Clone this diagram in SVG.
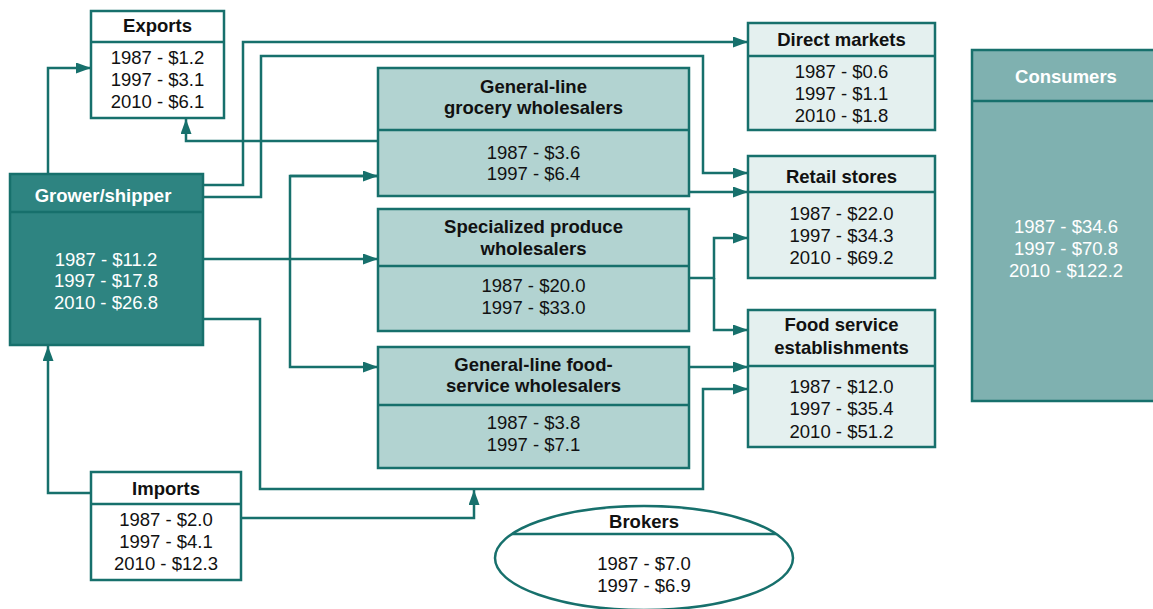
<svg xmlns="http://www.w3.org/2000/svg" width="1153" height="609" viewBox="0 0 1153 609">
<style>
.b{stroke:#17706c;stroke-width:2.5}
.w{fill:#ffffff}
.g{fill:#2e8481}
.m{fill:#b2d3d1}
.l{fill:#e4f0ef}
.c{fill:#7fb1b0}
.t{font-family:"Liberation Sans",Arial,sans-serif;font-size:18.5px;text-anchor:middle;fill:#111}
.h{font-weight:bold}
.wt{fill:#ffffff}
.cn{fill:none;stroke:#17706c;stroke-width:2.5}
</style>
<defs>
<marker id="a" viewBox="0 0 15 11" refX="15" refY="5.5" markerWidth="15" markerHeight="11" markerUnits="userSpaceOnUse" orient="auto">
<path d="M0,0 L15,5.5 L0,11 Z" fill="#17706c"/>
</marker>
</defs>
<g id="connectors">
<path class="cn" d="M48,174 V68 H91" marker-end="url(#a)"/>
<path class="cn" d="M203,185 H243 V42 H748" marker-end="url(#a)"/>
<path class="cn" d="M203,197 H261 V56 H703 V173 H748" marker-end="url(#a)"/>
<path class="cn" d="M378,141 H186 V119" marker-end="url(#a)"/>
<path class="cn" d="M203,259 H378" marker-end="url(#a)"/>
<path class="cn" d="M378,176 H290 V367 H378" marker-end="url(#a)"/>
<path class="cn" d="M290,176 H378" marker-end="url(#a)"/>
<path class="cn" d="M203,319 H260 V489 H703 V389 H748" marker-end="url(#a)"/>
<path class="cn" d="M241,518 H474 V490" marker-end="url(#a)"/>
<path class="cn" d="M91,493 H48 V346" marker-end="url(#a)"/>
<path class="cn" d="M689,192 H748" marker-end="url(#a)"/>
<path class="cn" d="M689,278 H714 V238 H748" marker-end="url(#a)"/>
<path class="cn" d="M714,278 V330 H748" marker-end="url(#a)"/>
<path class="cn" d="M689,367 H748" marker-end="url(#a)"/>
</g>
<g id="exports">
<rect class="b w" x="91" y="11" width="133" height="107"/>
<line class="b" x1="91" y1="42" x2="224" y2="42"/>
<text class="t h" x="157.5" y="32">Exports</text>
<text class="t" x="157.5" y="64">1987 - $1.2</text>
<text class="t" x="157.5" y="86">1997 - $3.1</text>
<text class="t" x="157.5" y="108">2010 - $6.1</text>
</g>
<g id="grower">
<rect class="b g" x="10" y="174" width="193" height="171"/>
<line class="b" x1="10" y1="212" x2="203" y2="212"/>
<text class="t h wt" x="103" y="202">Grower/shipper</text>
<text class="t wt" x="106" y="266">1987 - $11.2</text>
<text class="t wt" x="106" y="287">1997 - $17.8</text>
<text class="t wt" x="106" y="309">2010 - $26.8</text>
</g>
<g id="grocery">
<rect class="b m" x="378" y="68" width="311" height="128"/>
<line class="b" x1="378" y1="130" x2="689" y2="130"/>
<text class="t h" x="533.5" y="93">General-line</text>
<text class="t h" x="533.5" y="114">grocery wholesalers</text>
<text class="t" x="533.5" y="159">1987 - $3.6</text>
<text class="t" x="533.5" y="180">1997 - $6.4</text>
</g>
<g id="specialized">
<rect class="b m" x="378" y="209" width="311" height="122"/>
<line class="b" x1="378" y1="266" x2="689" y2="266"/>
<text class="t h" x="533.5" y="233">Specialized produce</text>
<text class="t h" x="533.5" y="255">wholesalers</text>
<text class="t" x="533.5" y="292">1987 - $20.0</text>
<text class="t" x="533.5" y="314">1997 - $33.0</text>
</g>
<g id="foodservice-wholesalers">
<rect class="b m" x="378" y="347" width="311" height="121"/>
<line class="b" x1="378" y1="405" x2="689" y2="405"/>
<text class="t h" x="533.5" y="371">General-line food-</text>
<text class="t h" x="533.5" y="392">service wholesalers</text>
<text class="t" x="533.5" y="429">1987 - $3.8</text>
<text class="t" x="533.5" y="451">1997 - $7.1</text>
</g>
<g id="direct">
<rect class="b l" x="748" y="23" width="187" height="107"/>
<line class="b" x1="748" y1="56" x2="935" y2="56"/>
<text class="t h" x="841.5" y="46">Direct markets</text>
<text class="t" x="841.5" y="78">1987 - $0.6</text>
<text class="t" x="841.5" y="100">1997 - $1.1</text>
<text class="t" x="841.5" y="122">2010 - $1.8</text>
</g>
<g id="retail">
<rect class="b l" x="748" y="156" width="187" height="122"/>
<line class="b" x1="748" y1="192" x2="935" y2="192"/>
<text class="t h" x="841.5" y="183">Retail stores</text>
<text class="t" x="841.5" y="220">1987 - $22.0</text>
<text class="t" x="841.5" y="242">1997 - $34.3</text>
<text class="t" x="841.5" y="264">2010 - $69.2</text>
</g>
<g id="foodservice">
<rect class="b l" x="748" y="310" width="187" height="137"/>
<line class="b" x1="748" y1="366" x2="935" y2="366"/>
<text class="t h" x="841.5" y="331">Food service</text>
<text class="t h" x="841.5" y="354">establishments</text>
<text class="t" x="841.5" y="393">1987 - $12.0</text>
<text class="t" x="841.5" y="415">1997 - $35.4</text>
<text class="t" x="841.5" y="438">2010 - $51.2</text>
</g>
<g id="consumers">
<rect class="b c" x="972" y="50" width="190" height="351"/>
<line class="b" x1="972" y1="101" x2="1162" y2="101"/>
<text class="t h wt" x="1066" y="83">Consumers</text>
<text class="t wt" x="1066" y="233">1987 - $34.6</text>
<text class="t wt" x="1066" y="255">1997 - $70.8</text>
<text class="t wt" x="1066" y="277">2010 - $122.2</text>
</g>
<g id="imports">
<rect class="b w" x="91" y="472" width="150" height="108"/>
<line class="b" x1="91" y1="504" x2="241" y2="504"/>
<text class="t h" x="166" y="495">Imports</text>
<text class="t" x="166" y="526">1987 - $2.0</text>
<text class="t" x="166" y="548">1997 - $4.1</text>
<text class="t" x="166" y="570">2010 - $12.3</text>
</g>
<g id="brokers">
<ellipse class="b w" cx="644" cy="558" rx="149" ry="52"/>
<line class="b" x1="512" y1="534" x2="776" y2="534"/>
<text class="t h" x="644" y="528">Brokers</text>
<text class="t" x="644" y="570">1987 - $7.0</text>
<text class="t" x="644" y="592">1997 - $6.9</text>
</g>
</svg>
